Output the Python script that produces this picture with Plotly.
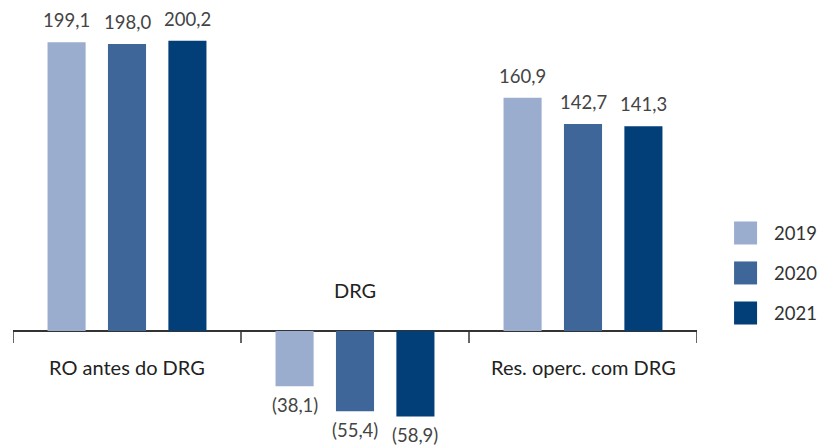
import plotly.graph_objects as go

categories = ["RO antes do DRG", "DRG", "Res. operc. com DRG"]
years = ["2019", "2020", "2021"]
values_2019 = [199.1, -38.1, 160.9]
values_2020 = [198.0, -55.4, 142.7]
values_2021 = [200.2, -58.9, 141.3]
series = [values_2019, values_2020, values_2021]

colors = ["#9badcf", "#3e6699", "#023e78"]
offsets = [-0.265, 0.0, 0.265]
bar_w = 0.167
FONT = "Lato"

def fmt(v):
    s = f"{abs(v):.1f}".replace(".", ",")
    return f"({s})" if v < 0 else s

xpos = list(range(len(categories)))
fig = go.Figure()
annotations = []
for yr, vals, col, off in zip(years, series, colors, offsets):
    fig.add_trace(go.Bar(
        x=xpos, y=vals, name=yr, width=bar_w, offset=off - bar_w / 2,
        marker=dict(color=col, line=dict(width=0)), showlegend=False,
        hoverinfo="skip",
    ))
    for xi, v in zip(xpos, vals):
        annotations.append(dict(
            x=xi + off, y=v, xref="x", yref="y", text=fmt(v), showarrow=False,
            yanchor="bottom" if v >= 0 else "top",
            yshift=9 if v >= 0 else -6,
            font=dict(family=FONT, size=18.5, color="#444444"),
        ))

# category labels
for xi, cat in zip(xpos, categories):
    neg = all(s[xi] < 0 for s in series)
    annotations.append(dict(
        x=xi, y=0, xref="x", yref="y", text=cat, showarrow=False,
        yanchor="bottom" if neg else "top",
        yshift=27 if neg else -22,
        font=dict(family=FONT, size=20, color="#222222"),
    ))

shapes = []
# tick marks at category boundaries
for b in [i - 0.5 for i in range(len(categories) + 1)]:
    shapes.append(dict(type="line", xref="x", yref="y", x0=b, x1=b,
                       ysizemode="pixel", yanchor=0, y0=0, y1=-12,
                       line=dict(color="#333333", width=1.5)))

# manual legend
leg_y = [0.4776, 0.388, 0.2982]
for yr, col, ly in zip(years, colors, leg_y):
    shapes.append(dict(type="rect", xref="paper", yref="paper",
                       xsizemode="pixel", xanchor=1.071, x0=-11.5, x1=11.5,
                       ysizemode="pixel", yanchor=ly, y0=-11.5, y1=11.5,
                       fillcolor=col, line=dict(width=0)))
    annotations.append(dict(x=1.1096, y=ly, xref="paper", yref="paper",
                            text=yr, showarrow=False, xanchor="left", yanchor="middle",
                            font=dict(family=FONT, size=18.5, color="#333333")))

fig.update_layout(
    width=818, height=446,
    margin=dict(l=13, r=121, t=0, b=0),
    paper_bgcolor="white", plot_bgcolor="white",
    barmode="overlay",
    xaxis=dict(range=[-0.5, 2.5], showticklabels=False, showgrid=False,
               zeroline=False, showline=False, ticks=""),
    yaxis=dict(range=[-79.3, 228.3], showticklabels=False, showgrid=False,
               zeroline=True, zerolinecolor="#333333", zerolinewidth=1.5,
               showline=False, ticks=""),
    annotations=annotations,
    shapes=shapes,
    font=dict(family=FONT),
)

fig.write_html(
    "out.html",
    config={"displayModeBar": False},
    post_script="document.body.style.margin='0';document.body.style.overflow='hidden';",
)
